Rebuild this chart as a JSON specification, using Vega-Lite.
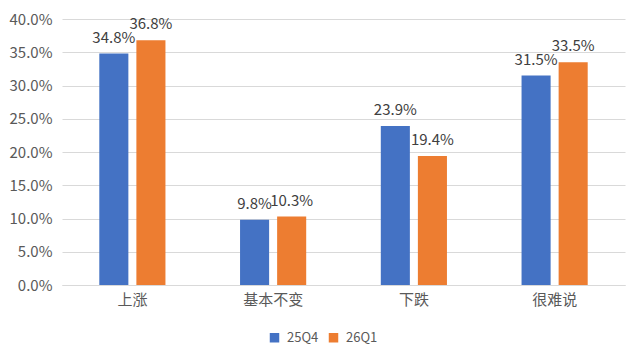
{
  "$schema": "https://vega.github.io/schema/vega-lite/v6.json",
  "width": 563,
  "height": 266,
  "autosize": {"type": "none"},
  "padding": {"left": 62, "top": 19, "right": 14, "bottom": 79},
  "background": "white",
  "config": {
    "font": "Noto Sans CJK SC",
    "view": {"stroke": null},
    "axis": {"labelFont": "Noto Sans CJK SC", "labelColor": "#595959", "labelFontSize": 15},
    "legend": {"labelFont": "Noto Sans CJK SC", "labelColor": "#595959", "labelFontSize": 13}
  },
  "data": {
    "values": [
      {"cat": "上涨", "series": "25Q4", "v": 0.348},
      {"cat": "上涨", "series": "26Q1", "v": 0.368},
      {"cat": "基本不变", "series": "25Q4", "v": 0.098},
      {"cat": "基本不变", "series": "26Q1", "v": 0.103},
      {"cat": "下跌", "series": "25Q4", "v": 0.239},
      {"cat": "下跌", "series": "26Q1", "v": 0.194},
      {"cat": "很难说", "series": "25Q4", "v": 0.315},
      {"cat": "很难说", "series": "26Q1", "v": 0.335}
    ]
  },
  "encoding": {
    "x": {
      "field": "cat", "type": "nominal", "sort": null, "title": null,
      "scale": {"paddingInner": 0.53, "paddingOuter": 0.265},
      "axis": {"labelAngle": 0, "ticks": false, "domainColor": "#d9d9d9", "labelPadding": 7}
    },
    "xOffset": {"field": "series", "type": "nominal", "scale": {"paddingInner": 0.216, "paddingOuter": 0}},
    "y": {
      "field": "v", "type": "quantitative", "title": null,
      "scale": {"domain": [0, 0.4]},
      "axis": {"format": ".1%", "values": [0, 0.05, 0.1, 0.15, 0.2, 0.25, 0.3, 0.35, 0.4], "labelOverlap": false, "domain": false, "ticks": false, "gridColor": "#d9d9d9", "labelPadding": 10}
    }
  },
  "layer": [
    {
      "mark": {"type": "bar"},
      "encoding": {
        "color": {
          "field": "series", "type": "nominal", "title": null,
          "scale": {"domain": ["25Q4", "26Q1"], "range": ["#4472C4", "#ED7D31"]},
          "legend": {"orient": "none", "legendX": 206, "legendY": 312, "direction": "horizontal", "symbolType": "square", "symbolSize": 90, "symbolStrokeWidth": 0, "columnPadding": 8, "labelOffset": 6}
        }
      }
    },
    {
      "mark": {"type": "text", "baseline": "bottom", "dy": -8, "fontSize": 15, "color": "#404040"},
      "encoding": {
        "text": {"field": "v", "type": "quantitative", "format": ".1%"}
      }
    }
  ]
}
